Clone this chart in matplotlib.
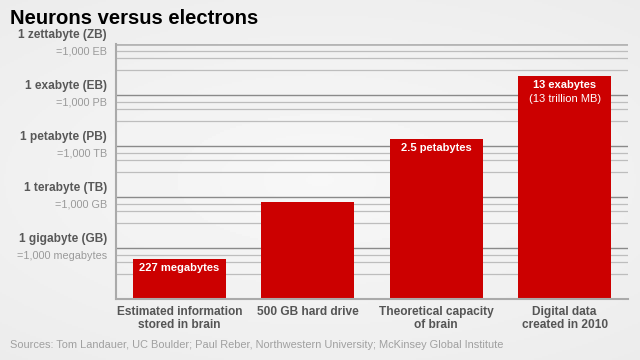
import numpy as np
import matplotlib.pyplot as plt
from matplotlib.transforms import blended_transform_factory, offset_copy

plt.rcParams['font.family'] = ['Liberation Sans', 'DejaVu Sans']

# data (bytes)
categories = ['Estimated information\nstored in brain', '500 GB hard drive',
              'Theoretical capacity\nof brain', 'Digital data\ncreated in 2010']
values = [227e6, 500e9, 2.5e15, 13e18]
bar_labels = ['227 megabytes', '', '2.5 petabytes', '13 exabytes']
bar_sublabels = ['', '', '', '(13 trillion MB)']

# axis units
unit_values = [1e9, 1e12, 1e15, 1e18, 1e21]
unit_names = ['1 gigabyte (GB)', '1 terabyte (TB)', '1 petabyte (PB)',
              '1 exabyte (EB)', '1 zettabyte (ZB)']
unit_subs = ['=1,000 megabytes', '=1,000 GB', '=1,000 TB', '=1,000 PB', '=1,000 EB']

RED = '#cc0000'

fig = plt.figure(figsize=(6.4, 3.6), dpi=100)

# soft grey background, lighter in the middle
bg = fig.add_axes([0, 0, 1, 1], zorder=-10)
yy, xx = np.mgrid[-1:1:180j, -1:1:320j]
rr = np.sqrt((xx * 0.9) ** 2 + (yy * 1.1) ** 2)
bg.imshow(0.97 - 0.045 * np.clip(rr, 0, 1.4) / 1.4, cmap='gray', vmin=0, vmax=1,
          aspect='auto', extent=[0, 1, 0, 1])
bg.axis('off')

ax = fig.add_axes([116 / 640, 1 - 299 / 360, 512 / 640, 255 / 360])
ax.patch.set_alpha(0)
ax.set_yscale('log')
ax.set_ylim(1e6, 1e21)
ax.set_xlim(-0.494, 3.494)

# grid lines: dark at each unit, light in between
for u in unit_values:
    for f in (0.137, 0.27, 0.51):
        ax.axhline(u * 10 ** (-3 * f), color='#bdbdbd', lw=0.9, zorder=0)
for u in unit_values[:-1]:
    ax.axhline(u, color='#8a8a8a', lw=1.0, zorder=0)
ax.axhline(1e21, color='#b5b5b5', lw=2.0, zorder=0)

x = np.arange(len(values))
ax.bar(x, values, width=0.724, bottom=1e6, color=RED, zorder=2)

for s in ['top', 'right']:
    ax.spines[s].set_visible(False)
ax.spines['left'].set_color('#aaaaaa')
ax.spines['left'].set_linewidth(1.5)
ax.spines['bottom'].set_color('#aaaaaa')
ax.spines['bottom'].set_linewidth(1.5)
ax.set_yticks([])
ax.minorticks_off()
ax.tick_params(axis='y', which='both', left=False, labelleft=False)
ax.set_xticks(x)
ax.set_xticklabels(categories, fontsize=8.6, fontweight='bold', color='#555555',
                   linespacing=1.15)
ax.tick_params(axis='x', length=0, pad=5)

# unit labels on the left
tr = blended_transform_factory(fig.transFigure, ax.transData)
for u, name, sub in zip(unit_values, unit_names, unit_subs):
    ax.text(107 / 640, u, name, transform=offset_copy(tr, fig=fig, y=2, units='points'),
            ha='right', va='bottom', fontsize=8.6, fontweight='bold', color='#585858')
    ax.text(107 / 640, u, sub, transform=offset_copy(tr, fig=fig, y=-2, units='points'),
            ha='right', va='top', fontsize=7.8, color='#9a9a9a')

# labels inside bars
for xi, v, lab, sub in zip(x, values, bar_labels, bar_sublabels):
    if lab:
        ax.annotate(lab, (xi, v), xytext=(0, -3), textcoords='offset points',
                    ha='center', va='top', fontsize=8, fontweight='bold', color='white')
    if sub:
        ax.annotate(sub, (xi, v), xytext=(0, -13), textcoords='offset points',
                    ha='center', va='top', fontsize=8, color='white')

fig.text(10 / 640, 1 - 18 / 360, 'Neurons versus electrons', fontsize=14.6,
         fontweight='bold', color='black', va='center', ha='left')
fig.text(10 / 640, 1 - 345 / 360,
         'Sources: Tom Landauer, UC Boulder; Paul Reber, Northwestern University; McKinsey Global Institute',
         fontsize=7.9, color='#a0a0a0', va='center', ha='left')

fig.savefig('out.png', dpi=100)
